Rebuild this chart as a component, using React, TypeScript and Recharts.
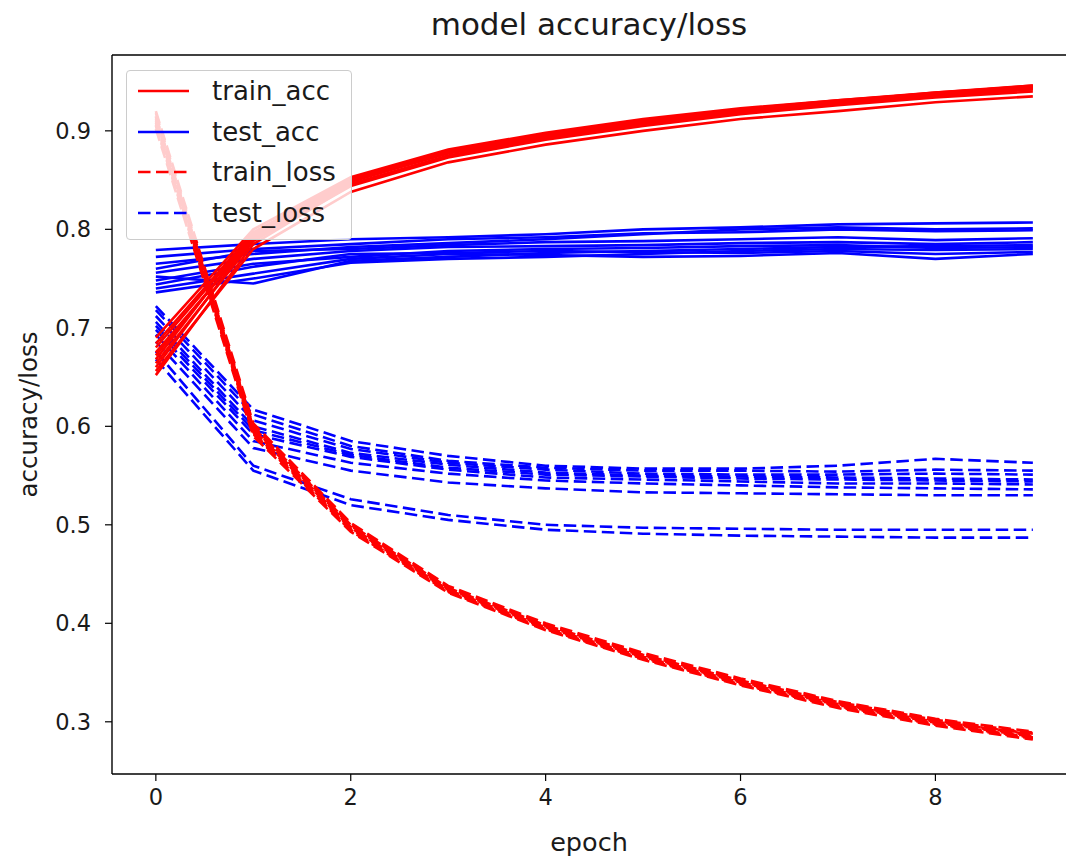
import React from 'react';
import { LineChart, Line, XAxis, YAxis, Legend } from 'recharts';

// epochs on the x axis
const epochs = [0, 1, 2, 3, 4, 5, 6, 7, 8, 9];

// one row per fold, one value per epoch
const trainAcc = [
  [0.652, 0.785, 0.845, 0.874, 0.892, 0.907, 0.918, 0.927, 0.936, 0.943],
  [0.660, 0.792, 0.850, 0.879, 0.896, 0.910, 0.921, 0.930, 0.938, 0.945],
  [0.668, 0.796, 0.852, 0.880, 0.897, 0.911, 0.922, 0.930, 0.939, 0.946],
  [0.675, 0.790, 0.846, 0.875, 0.893, 0.907, 0.919, 0.928, 0.936, 0.942],
  [0.690, 0.800, 0.853, 0.881, 0.898, 0.912, 0.923, 0.931, 0.939, 0.945],
  [0.656, 0.780, 0.838, 0.868, 0.886, 0.900, 0.912, 0.920, 0.929, 0.935],
  [0.664, 0.788, 0.844, 0.873, 0.891, 0.905, 0.917, 0.926, 0.934, 0.940],
  [0.680, 0.795, 0.849, 0.877, 0.894, 0.909, 0.920, 0.929, 0.937, 0.944],
  [0.672, 0.793, 0.848, 0.878, 0.895, 0.909, 0.921, 0.929, 0.937, 0.943],
  [0.684, 0.797, 0.851, 0.880, 0.897, 0.911, 0.922, 0.931, 0.938, 0.946],
];

const testAcc = [
  [0.779, 0.785, 0.790, 0.792, 0.795, 0.800, 0.802, 0.805, 0.806, 0.807],
  [0.772, 0.780, 0.785, 0.790, 0.792, 0.796, 0.797, 0.800, 0.798, 0.799],
  [0.765, 0.775, 0.782, 0.786, 0.790, 0.795, 0.800, 0.802, 0.800, 0.801],
  [0.760, 0.778, 0.780, 0.784, 0.787, 0.788, 0.790, 0.792, 0.789, 0.791],
  [0.756, 0.770, 0.778, 0.782, 0.783, 0.784, 0.786, 0.787, 0.785, 0.787],
  [0.752, 0.745, 0.768, 0.772, 0.776, 0.778, 0.780, 0.782, 0.783, 0.784],
  [0.748, 0.765, 0.772, 0.778, 0.780, 0.781, 0.783, 0.784, 0.781, 0.782],
  [0.744, 0.762, 0.775, 0.776, 0.778, 0.777, 0.776, 0.778, 0.775, 0.777],
  [0.740, 0.755, 0.770, 0.775, 0.774, 0.772, 0.773, 0.776, 0.770, 0.775],
  [0.736, 0.750, 0.766, 0.770, 0.772, 0.775, 0.778, 0.780, 0.779, 0.780],
];

const trainLoss = [
  [0.918, 0.600, 0.500, 0.436, 0.398, 0.368, 0.342, 0.319, 0.301, 0.287],
  [0.912, 0.596, 0.497, 0.434, 0.396, 0.366, 0.340, 0.317, 0.299, 0.285],
  [0.905, 0.592, 0.495, 0.432, 0.394, 0.364, 0.338, 0.315, 0.297, 0.283],
  [0.915, 0.598, 0.499, 0.435, 0.397, 0.367, 0.341, 0.318, 0.300, 0.286],
  [0.908, 0.594, 0.496, 0.433, 0.395, 0.365, 0.339, 0.316, 0.298, 0.284],
  [0.920, 0.603, 0.502, 0.438, 0.400, 0.370, 0.344, 0.321, 0.303, 0.290],
  [0.902, 0.590, 0.493, 0.431, 0.393, 0.363, 0.337, 0.314, 0.296, 0.282],
  [0.910, 0.597, 0.498, 0.434, 0.396, 0.366, 0.340, 0.318, 0.300, 0.288],
  [0.914, 0.599, 0.500, 0.436, 0.398, 0.368, 0.342, 0.320, 0.302, 0.289],
  [0.906, 0.593, 0.494, 0.432, 0.394, 0.364, 0.338, 0.316, 0.298, 0.284],
];

const testLoss = [
  [0.722, 0.617, 0.585, 0.570, 0.560, 0.557, 0.557, 0.560, 0.567, 0.563],
  [0.718, 0.612, 0.580, 0.565, 0.558, 0.555, 0.555, 0.554, 0.556, 0.555],
  [0.712, 0.606, 0.577, 0.563, 0.556, 0.552, 0.551, 0.551, 0.552, 0.551],
  [0.706, 0.600, 0.573, 0.561, 0.553, 0.550, 0.549, 0.548, 0.547, 0.546],
  [0.702, 0.596, 0.571, 0.558, 0.551, 0.549, 0.547, 0.546, 0.545, 0.544],
  [0.698, 0.592, 0.569, 0.556, 0.548, 0.546, 0.544, 0.542, 0.542, 0.541],
  [0.693, 0.585, 0.563, 0.552, 0.545, 0.542, 0.540, 0.538, 0.537, 0.536],
  [0.686, 0.578, 0.555, 0.543, 0.537, 0.533, 0.532, 0.531, 0.530, 0.530],
  [0.676, 0.560, 0.526, 0.510, 0.500, 0.497, 0.496, 0.495, 0.495, 0.495],
  [0.668, 0.555, 0.520, 0.505, 0.495, 0.491, 0.489, 0.488, 0.487, 0.487],
];

const xTicks = [0, 2, 4, 6, 8];
const yTicks = [0.3, 0.4, 0.5, 0.6, 0.7, 0.8, 0.9];

const legendItems = [
  { name: 'train_acc', color: '#ff0000', dashed: false },
  { name: 'test_acc', color: '#0000ff', dashed: false },
  { name: 'train_loss', color: '#ff0000', dashed: true },
  { name: 'test_loss', color: '#0000ff', dashed: true },
];

const FONT = '"DejaVu Sans", sans-serif';
const DASH = '12.5 5.5';
const INK = '#1a1a1a';

const rows = epochs.map((epoch, i) => {
  const row: Record<string, number> = { epoch };
  trainAcc.forEach((run, k) => (row[`ta${k}`] = run[i]));
  testAcc.forEach((run, k) => (row[`va${k}`] = run[i]));
  trainLoss.forEach((run, k) => (row[`tl${k}`] = run[i]));
  testLoss.forEach((run, k) => (row[`vl${k}`] = run[i]));
  return row;
});

// matplotlib-like legend box, semi transparent
const renderLegend = () => (
  <div
    style={{
      position: 'relative',
      width: 224,
      height: 168,
      border: '1px solid #cccccc',
      borderRadius: 4,
      background: 'rgba(255,255,255,0.8)',
      fontFamily: FONT,
      fontSize: 26,
      color: INK,
    }}
  >
    {legendItems.map((item, i) => (
      <div key={item.name} style={{ position: 'absolute', left: 0, top: 20 + i * 40.7 - 16, height: 32, display: 'flex', alignItems: 'center' }}>
        <svg width={64} height={32} style={{ marginLeft: 10 }}>
          <line
            x1={1}
            x2={52}
            y1={16}
            y2={16}
            stroke={item.color}
            strokeWidth={2.6}
            strokeDasharray={item.dashed ? DASH : undefined}
          />
        </svg>
        <span style={{ marginLeft: 11, lineHeight: '32px', whiteSpace: 'nowrap' }}>{item.name}</span>
      </div>
    ))}
  </div>
);

const App: React.FC = () => {
  const folds = trainAcc.map((_, k) => k);
  const lineProps = { dot: false, activeDot: false, isAnimationActive: false, strokeWidth: 2.6, type: 'linear' as const };

  return (
    <div style={{ position: 'absolute', left: 0, top: 0, width: 1071, height: 860, background: '#fff' }}>
      <LineChart width={1071} height={860} data={rows} margin={{ top: 0, right: 5, bottom: 6, left: 12 }}>
        <XAxis
          dataKey="epoch"
          type="number"
          domain={[-0.45, 9.34]}
          allowDataOverflow
          ticks={xTicks}
          height={80}
          tickSize={7}
          tickMargin={8}
          axisLine={{ stroke: '#000', strokeWidth: 1.4 }}
          tickLine={{ stroke: '#000', strokeWidth: 1.2 }}
          tick={{ fill: INK, fontSize: 22.5, fontFamily: FONT }}
          label={{ value: 'epoch', position: 'insideBottom', offset: 3, fill: INK, fontSize: 25.5, fontFamily: FONT }}
        />
        <XAxis
          xAxisId="top"
          orientation="top"
          type="number"
          domain={[-0.45, 9.34]}
          allowDataOverflow
          height={55}
          tick={false}
          tickLine={false}
          axisLine={{ stroke: '#000', strokeWidth: 1.4 }}
          label={{ value: 'model accuracy/loss', position: 'insideTop', offset: 13, fill: INK, fontSize: 31, fontFamily: FONT }}
        />
        <YAxis
          type="number"
          domain={[0.247, 0.977]}
          allowDataOverflow
          ticks={yTicks}
          width={100}
          tickSize={7}
          tickMargin={14}
          axisLine={{ stroke: '#000', strokeWidth: 1.4 }}
          tickLine={{ stroke: '#000', strokeWidth: 1.2 }}
          tick={{ fill: INK, fontSize: 22.5, fontFamily: FONT }}
          label={{ value: 'accuracy/loss', angle: -90, position: 'insideLeft', offset: 16, fill: INK, fontSize: 24.5, fontFamily: FONT, style: { textAnchor: 'middle' } }}
        />
        <YAxis
          yAxisId="right"
          orientation="right"
          type="number"
          domain={[0.247, 0.977]}
          allowDataOverflow
          width={0}
          tick={false}
          tickLine={false}
          axisLine={{ stroke: '#000', strokeWidth: 1.4 }}
        />
        <Legend
          content={renderLegend}
          layout="horizontal"
          verticalAlign="middle"
          align="center"
          wrapperStyle={{ left: 126, top: 70, width: 226, height: 170 }}
        />

        {folds.map((k) => (
          <Line key={`va${k}`} dataKey={`va${k}`} stroke="#0000ff" {...lineProps} />
        ))}
        {folds.map((k) => (
          <Line key={`vl${k}`} dataKey={`vl${k}`} stroke="#0000ff" strokeDasharray={DASH} {...lineProps} />
        ))}
        {folds.map((k) => (
          <Line key={`ta${k}`} dataKey={`ta${k}`} stroke="#ff0000" {...lineProps} />
        ))}
        {folds.map((k) => (
          <Line key={`tl${k}`} dataKey={`tl${k}`} stroke="#ff0000" strokeDasharray={DASH} {...lineProps} />
        ))}
      </LineChart>
    </div>
  );
};

export default App;
